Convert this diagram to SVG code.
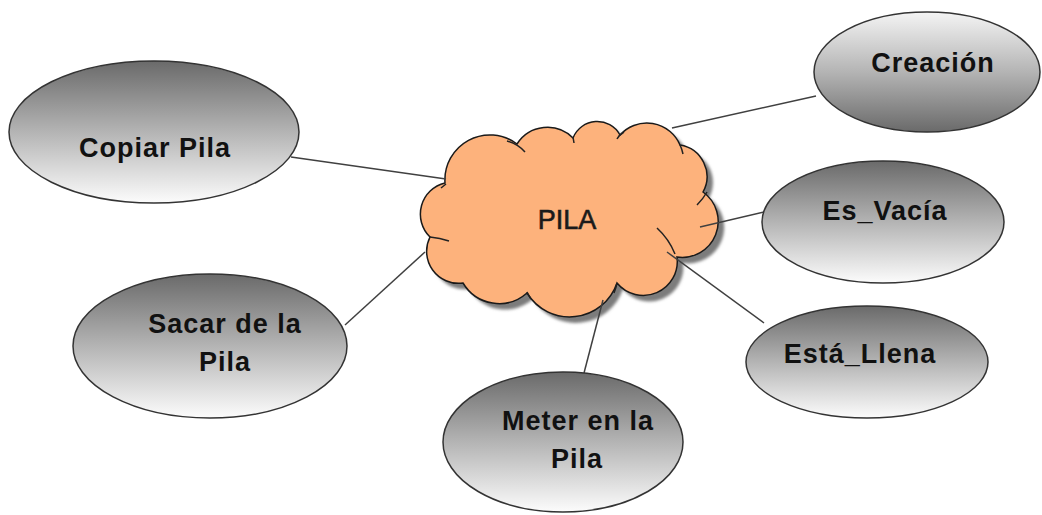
<svg xmlns="http://www.w3.org/2000/svg" width="1042" height="515" viewBox="0 0 1042 515">
  <defs>
    <linearGradient id="gradDown" x1="0" y1="0" x2="0" y2="1">
      <stop offset="0" stop-color="#6a6a6a"/>
      <stop offset="0.5" stop-color="#b4b4b4"/>
      <stop offset="1" stop-color="#fcfcfc"/>
    </linearGradient>
    <linearGradient id="gradUp" x1="0" y1="0" x2="0" y2="1">
      <stop offset="0" stop-color="#f4f4f4"/>
      <stop offset="0.5" stop-color="#b4b4b4"/>
      <stop offset="1" stop-color="#6a6a6a"/>
    </linearGradient>
    <filter id="soft" x="-10%" y="-10%" width="120%" height="120%">
      <feGaussianBlur stdDeviation="1.5"/>
    </filter>
    <path id="cloudShape" d="M445,183 A45 45 0 0 1 517,144 A36 36 0 0 1 573,138 A26 26 0 0 1 620,135 A36 36 0 0 1 680,145 A32 32 0 0 1 703,192 A36 36 0 0 1 677,257 A34 34 0 0 1 617,283 A50 50 0 0 1 527,293 A42 42 0 0 1 463,283 A32 32 0 0 1 430,237 A32 32 0 0 1 445,183 Z"/>
  </defs>
  <style>
    .node ellipse { stroke: #333333; stroke-width: 1.5; }
    .label { font-family: "Liberation Sans", Arial, sans-serif; font-weight: bold; font-size: 27px; letter-spacing: 1px; fill: #111111; text-anchor: middle; }
    .connectors line { stroke: #404040; stroke-width: 1.5; }
    .curl { fill: none; stroke: #222222; stroke-width: 1.5; }
  </style>

  <rect width="1042" height="515" fill="#ffffff"/>

  <!-- central cloud -->
  <g id="pila">
    <use href="#cloudShape" transform="translate(6,6)" fill="#7c7c7c" filter="url(#soft)"/>
    <use href="#cloudShape" fill="#fdb27c" stroke="#1a1a1a" stroke-width="1.5"/>
    <path class="curl" d="M507,141 Q518,144 525,152 M573,137 L574,143 M617,139 Q619,135 624,132 M680,145 Q682,149 683,154 M707,192 Q703,199 697,205 M657,228 Q669,239 675,254 M617,283 Q616,288 614,293 M527,292 Q529,296 531,299 M430,237 Q440,238 449,241 M441,188 L446,184"/>
    <text x="567" y="229" style="font-family:'Liberation Sans', Arial, sans-serif; font-size:27px; fill:#1a1a1a; stroke:#1a1a1a; stroke-width:0.6; text-anchor:middle;">PILA</text>
  </g>

  <!-- connectors -->
  <g class="connectors">
    <line x1="291" y1="157" x2="446" y2="179"/>
    <line x1="672" y1="128" x2="816" y2="96"/>
    <line x1="700" y1="227" x2="764" y2="212"/>
    <line x1="667" y1="252" x2="764" y2="323"/>
    <line x1="603" y1="300" x2="584" y2="373"/>
    <line x1="345" y1="325" x2="425" y2="252"/>
  </g>

  <!-- operations -->
  <g id="copiar" class="node">
    <ellipse cx="154" cy="132" rx="145" ry="71" fill="url(#gradDown)"/>
    <text class="label" x="155" y="157">Copiar Pila</text>
  </g>
  <g id="creacion" class="node">
    <ellipse cx="927" cy="72" rx="113" ry="60" fill="url(#gradUp)"/>
    <text class="label" x="933" y="72">Creación</text>
  </g>
  <g id="es-vacia" class="node">
    <ellipse cx="883" cy="222" rx="121" ry="61" fill="url(#gradDown)"/>
    <text class="label" x="885" y="220">Es_Vacía</text>
  </g>
  <g id="esta-llena" class="node">
    <ellipse cx="867" cy="362" rx="121" ry="56" fill="url(#gradDown)"/>
    <text class="label" x="860" y="363">Está_Llena</text>
  </g>
  <g id="sacar" class="node">
    <ellipse cx="210" cy="346" rx="137" ry="72" fill="url(#gradDown)"/>
    <text class="label" x="225" y="333">Sacar de la</text>
    <text class="label" x="225" y="371">Pila</text>
  </g>
  <g id="meter" class="node">
    <ellipse cx="563" cy="442" rx="120" ry="70" fill="url(#gradDown)"/>
    <text class="label" x="578" y="430">Meter en la</text>
    <text class="label" x="577" y="468">Pila</text>
  </g>
</svg>
